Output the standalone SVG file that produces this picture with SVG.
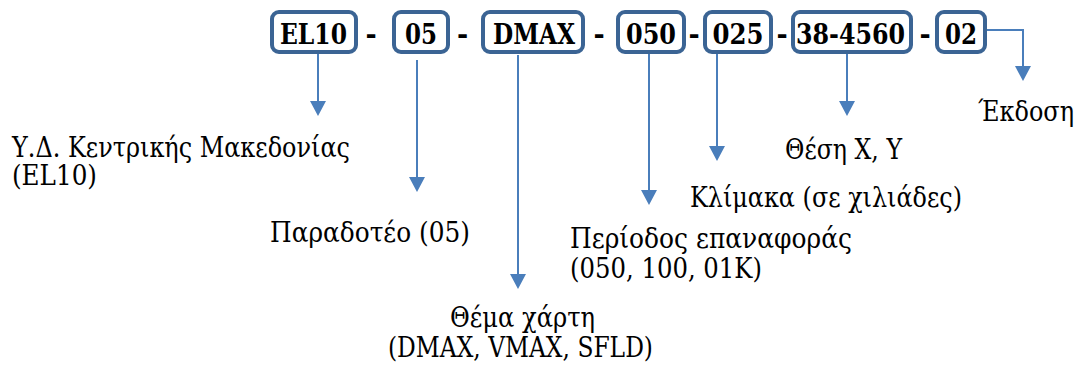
<svg xmlns="http://www.w3.org/2000/svg" width="1077" height="365" viewBox="0 0 1077 365">
  <defs>
    <marker id="arrow" markerUnits="userSpaceOnUse" viewBox="0 0 15 16" refX="0" refY="8" markerWidth="15" markerHeight="16" orient="auto">
      <path d="M0,0 L15,8 L0,16 Z" fill="#4a7ebb"/>
    </marker>
  </defs>
  <rect width="1077" height="365" fill="#ffffff"/>

  <g id="connectors" fill="none" stroke="#4a7ebb" stroke-width="2">
    <path d="M318,54 V101" marker-end="url(#arrow)"/>
    <path d="M417,60 V177" marker-end="url(#arrow)"/>
    <path d="M518,55 V274" marker-end="url(#arrow)"/>
    <path d="M649,54 V190" marker-end="url(#arrow)"/>
    <path d="M717,54 V146" marker-end="url(#arrow)"/>
    <path d="M847,54 V101" marker-end="url(#arrow)"/>
    <path d="M987,30 H1023 V66" marker-end="url(#arrow)"/>
  </g>

  <g id="node-el10">
    <rect x="272" y="12" width="84" height="40" rx="7" fill="#ffffff" stroke="#3b6494" stroke-width="4"/>
    <text x="313.5" y="44" style="font-family: 'DejaVu Serif', serif; font-weight: bold; font-size: 27px" text-anchor="middle" textLength="67" lengthAdjust="spacingAndGlyphs">EL10</text>
  </g>
  <g id="node-05">
    <rect x="394" y="12" width="54" height="40" rx="7" fill="#ffffff" stroke="#3b6494" stroke-width="4"/>
    <text x="421" y="44" style="font-family: 'DejaVu Serif', serif; font-weight: bold; font-size: 27px" text-anchor="middle" textLength="32" lengthAdjust="spacingAndGlyphs">05</text>
  </g>
  <g id="node-dmax">
    <rect x="483" y="12" width="100" height="40" rx="7" fill="#ffffff" stroke="#3b6494" stroke-width="4"/>
    <text x="534" y="44" style="font-family: 'DejaVu Serif', serif; font-weight: bold; font-size: 27px" text-anchor="middle" textLength="82" lengthAdjust="spacingAndGlyphs">DMAX</text>
  </g>
  <g id="node-050">
    <rect x="618" y="12" width="66" height="40" rx="7" fill="#ffffff" stroke="#3b6494" stroke-width="4"/>
    <text x="651" y="44" style="font-family: 'DejaVu Serif', serif; font-weight: bold; font-size: 27px" text-anchor="middle" textLength="50" lengthAdjust="spacingAndGlyphs">050</text>
  </g>
  <g id="node-025">
    <rect x="705" y="12" width="66" height="40" rx="7" fill="#ffffff" stroke="#3b6494" stroke-width="4"/>
    <text x="738" y="44" style="font-family: 'DejaVu Serif', serif; font-weight: bold; font-size: 27px" text-anchor="middle" textLength="51" lengthAdjust="spacingAndGlyphs">025</text>
  </g>
  <g id="node-xy">
    <rect x="793" y="12" width="118" height="40" rx="7" fill="#ffffff" stroke="#3b6494" stroke-width="4"/>
    <text x="850.5" y="44" style="font-family: 'DejaVu Serif', serif; font-weight: bold; font-size: 27px" text-anchor="middle" textLength="109" lengthAdjust="spacingAndGlyphs">38-4560</text>
  </g>
  <g id="node-02">
    <rect x="937" y="12" width="48" height="40" rx="7" fill="#ffffff" stroke="#3b6494" stroke-width="4"/>
    <text x="961" y="44" style="font-family: 'DejaVu Serif', serif; font-weight: bold; font-size: 27px" text-anchor="middle" textLength="32" lengthAdjust="spacingAndGlyphs">02</text>
  </g>

  <g id="hyphens" text-anchor="middle">
    <text x="371" y="44" style="font-family: 'DejaVu Serif', serif; font-weight: bold; font-size: 27px">-</text>
    <text x="462.5" y="44" style="font-family: 'DejaVu Serif', serif; font-weight: bold; font-size: 27px">-</text>
    <text x="599" y="44" style="font-family: 'DejaVu Serif', serif; font-weight: bold; font-size: 27px">-</text>
    <text x="694" y="44" style="font-family: 'DejaVu Serif', serif; font-weight: bold; font-size: 27px">-</text>
    <text x="782" y="44" style="font-family: 'DejaVu Serif', serif; font-weight: bold; font-size: 27px">-</text>
    <text x="925" y="44" style="font-family: 'DejaVu Serif', serif; font-weight: bold; font-size: 27px">-</text>
  </g>

  <g id="label-region">
    <text x="12" y="157" style="font-family: 'DejaVu Serif', serif; font-size: 27px" textLength="338" lengthAdjust="spacingAndGlyphs">Υ.Δ. Κεντρικής Μακεδονίας</text>
    <text x="12" y="185" style="font-family: 'DejaVu Serif', serif; font-size: 27px" textLength="85" lengthAdjust="spacingAndGlyphs">(EL10)</text>
  </g>
  <g id="label-deliverable">
    <text x="270" y="242" style="font-family: 'DejaVu Serif', serif; font-size: 27px" textLength="200" lengthAdjust="spacingAndGlyphs">Παραδοτέο (05)</text>
  </g>
  <g id="label-theme">
    <text x="450" y="327" style="font-family: 'DejaVu Serif', serif; font-size: 27px" textLength="145" lengthAdjust="spacingAndGlyphs">Θέμα χάρτη</text>
    <text x="388" y="357" style="font-family: 'DejaVu Serif', serif; font-size: 27px" textLength="265" lengthAdjust="spacingAndGlyphs">(DMAX, VMAX, SFLD)</text>
  </g>
  <g id="label-period">
    <text x="570" y="248" style="font-family: 'DejaVu Serif', serif; font-size: 27px" textLength="282" lengthAdjust="spacingAndGlyphs">Περίοδος επαναφοράς</text>
    <text x="570" y="278" style="font-family: 'DejaVu Serif', serif; font-size: 27px" textLength="192" lengthAdjust="spacingAndGlyphs">(050, 100, 01K)</text>
  </g>
  <g id="label-scale">
    <text x="690" y="207" style="font-family: 'DejaVu Serif', serif; font-size: 27px" textLength="272" lengthAdjust="spacingAndGlyphs">Κλίμακα (σε χιλιάδες)</text>
  </g>
  <g id="label-position">
    <text x="785" y="159" style="font-family: 'DejaVu Serif', serif; font-size: 27px" textLength="117" lengthAdjust="spacingAndGlyphs">Θέση Χ, Υ</text>
  </g>
  <g id="label-version">
    <text x="978" y="121" style="font-family: 'DejaVu Serif', serif; font-size: 27px" textLength="96" lengthAdjust="spacingAndGlyphs">Έκδοση</text>
  </g>
</svg>
